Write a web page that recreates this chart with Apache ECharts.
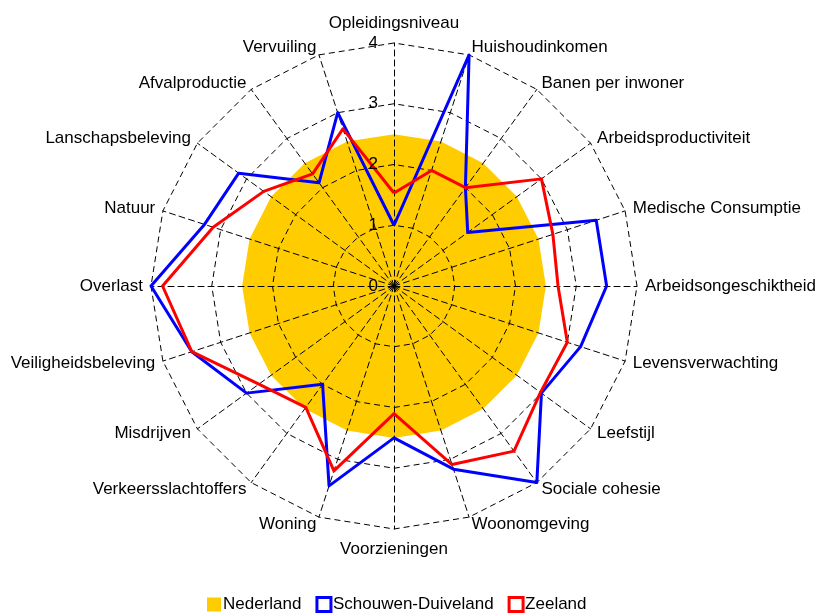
<!DOCTYPE html>
<html>
<head>
<meta charset="utf-8">
<script src="https://cdn.jsdelivr.net/npm/echarts@6/dist/echarts.min.js"></script>
<style>html,body{margin:0;padding:0;background:#fff;}#c{width:817px;height:613px;}</style>
</head>
<body>
<div id="c"></div>
<script>
// Clockwise order starting at the top
var categories = ['Opleidingsniveau','Huishoudinkomen','Banen per inwoner','Arbeidsproductiviteit','Medische Consumptie','Arbeidsongeschiktheid','Levensverwachting','Leefstijl','Sociale cohesie','Woonomgeving','Voorzieningen','Woning','Verkeersslachtoffers','Misdrijven','Veiligheidsbeleving','Overlast','Natuur','Lanschapsbeleving','Afvalproductie','Vervuiling'];
var nederland = [2.5,2.5,2.5,2.5,2.5,2.5,2.5,2.5,2.5,2.5,2.5,2.5,2.5,2.5,2.5,2.5,2.5,2.5,2.5,2.5];
var schouwenDuiveland = [1.0,4.0,2.0,1.5,3.5,3.5,3.23,3.0,4.0,3.17,2.5,3.46,2.0,3.0,3.5,4.0,3.28,3.16,2.1,3.0];
var zeeland = [1.53,2.0,2.0,3.0,2.75,2.7,3.0,2.98,3.36,3.09,2.1,3.2,2.47,2.75,3.5,3.81,3.13,2.65,2.28,2.72];
var tickLabels = ['0','1','2','3','4'];
var seriesNames = ['Nederland','Schouwen-Duiveland','Zeeland'];
var seriesColors = ['#ffcc00','#0000ff','#ff0000'];

// ECharts radar runs counter-clockwise; reorder so the picture runs clockwise
function cw(a){ return [a[0]].concat(a.slice(1).reverse()); }

var FONT = 'Liberation Sans, Arial, sans-serif';
var CX = 394, CY = 286, R = 243;

var chart = echarts.init(document.getElementById('c'), null, {renderer:'canvas'});
chart.setOption({
  animation: false,
  backgroundColor: '#fff',
  textStyle: {fontFamily: FONT},
  legend: {
    top: 591,
    left: 202,
    itemWidth: 14,
    itemHeight: 14,
    itemGap: 14,
    icon: 'rect',
    textStyle: {fontSize: 17, color: '#000', fontFamily: FONT, padding: [0,0,0,-3]},
    data: [
      {name: seriesNames[0], itemStyle: {color: seriesColors[0], borderWidth: 0}},
      {name: seriesNames[1], itemStyle: {color: '#fff', borderColor: seriesColors[1], borderWidth: 3}},
      {name: seriesNames[2], itemStyle: {color: '#fff', borderColor: seriesColors[2], borderWidth: 3}}
    ]
  },
  radar: {
    center: [CX, CY],
    radius: R,
    startAngle: 90,
    shape: 'polygon',
    splitNumber: 4,
    z: 2,
    indicator: cw(categories).map(function(n){ return {name: n, min: 0, max: 4}; }),
    axisName: {
      color: '#000', fontSize: 17, fontFamily: FONT,
      formatter: function(n){
        if (n === categories[0]) return '{t|' + n + '}';
        if (n === categories[10]) return '{b|' + n + '}';
        return n;
      },
      rich: {
        t: {fontSize: 17, fontFamily: FONT, color: '#000', padding: [0,0,3,0]},
        b: {fontSize: 17, fontFamily: FONT, color: '#000', padding: [4,0,0,0]}
      }
    },
    nameGap: 8,
    splitArea: {show: false},
    splitLine: {lineStyle: {color: '#000', width: 1, type: [6,4]}},
    axisLine: {lineStyle: {color: '#000', width: 1, type: [6,4]}},
    axisTick: {show: false},
    axisLabel: {show: false}
  },
  polar: {center: [CX, CY], radius: R},
  angleAxis: {type: 'value', min: 0, max: 360, startAngle: 90, show: false},
  radiusAxis: {
    type: 'value', min: 0, max: 4, interval: 1, z: 5,
    axisLine: {show: false}, axisTick: {show: false}, splitLine: {show: false},
    axisLabel: {color: '#000', fontSize: 17, fontFamily: FONT, margin: 16,
      formatter: function(v){ return tickLabels[Math.round(v)]; }}
  },
  series: [
    {
      name: seriesNames[0], type: 'radar', z: 1, symbol: 'none',
      lineStyle: {width: 0, color: seriesColors[0]},
      itemStyle: {color: seriesColors[0]},
      areaStyle: {color: seriesColors[0], opacity: 1},
      data: [{value: cw(nederland), name: seriesNames[0]}]
    },
    {
      name: seriesNames[1], type: 'radar', z: 3, symbol: 'none',
      lineStyle: {width: 3, color: seriesColors[1]},
      itemStyle: {color: seriesColors[1]},
      data: [{value: cw(schouwenDuiveland), name: seriesNames[1]}]
    },
    {
      name: seriesNames[2], type: 'radar', z: 3, symbol: 'none',
      lineStyle: {width: 3, color: seriesColors[2]},
      itemStyle: {color: seriesColors[2]},
      data: [{value: cw(zeeland), name: seriesNames[2]}]
    }
  ]
});
</script>
</body>
</html>
